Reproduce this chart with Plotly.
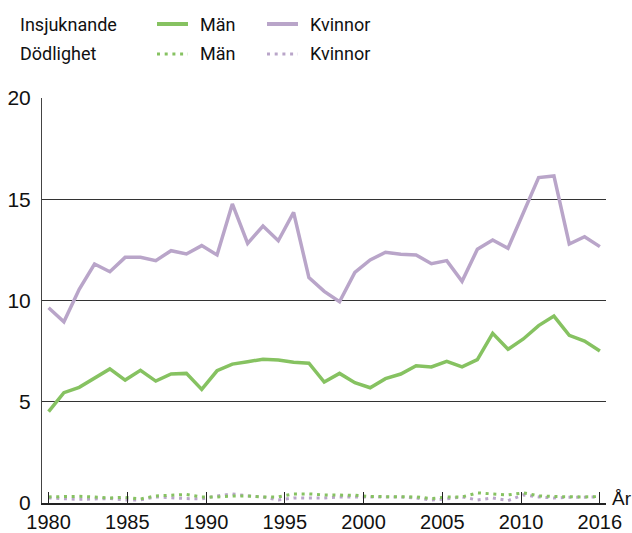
import plotly.graph_objects as go

years = list(range(1980, 2017))

# Insjuknande (per 100 000)
inc_men = [4.51, 5.45, 5.71, 6.16, 6.62, 6.07, 6.55, 6.02, 6.37, 6.40,
           5.61, 6.53, 6.86, 6.98, 7.10, 7.06, 6.95, 6.90, 5.97, 6.40,
           5.94, 5.69, 6.14, 6.37, 6.78, 6.72, 7.00, 6.72, 7.08, 8.38,
           7.59, 8.10, 8.76, 9.23, 8.28, 8.00, 7.51]
inc_women = [9.64, 8.95, 10.55, 11.80, 11.42, 12.13, 12.13, 11.97, 12.46, 12.30,
             12.71, 12.25, 14.77, 12.82, 13.68, 12.95, 14.35, 11.13, 10.45, 9.94,
             11.39, 12.00, 12.38, 12.28, 12.25, 11.82, 11.97, 10.95, 12.53, 12.99,
             12.58, 14.32, 16.07, 16.15, 12.79, 13.15, 12.66]

# Dödlighet (per 100 000)
mort_men = [0.30, 0.33, 0.33, 0.30, 0.25, 0.28, 0.20, 0.35, 0.40, 0.42,
            0.30, 0.30, 0.35, 0.35, 0.30, 0.30, 0.45, 0.45, 0.40, 0.38,
            0.38, 0.32, 0.32, 0.32, 0.30, 0.22, 0.30, 0.30, 0.50, 0.45,
            0.40, 0.50, 0.35, 0.32, 0.30, 0.30, 0.32]
mort_women = [0.25, 0.20, 0.18, 0.20, 0.22, 0.15, 0.15, 0.30, 0.25, 0.22,
              0.20, 0.35, 0.45, 0.35, 0.30, 0.15, 0.25, 0.25, 0.25, 0.30,
              0.30, 0.28, 0.30, 0.30, 0.25, 0.15, 0.20, 0.30, 0.15, 0.25,
              0.12, 0.40, 0.30, 0.25, 0.28, 0.28, 0.30]

x_tick_labels = ["1980", "1985", "1990", "1995", "2000", "2005", "2010", "2016"]
y_ticks = [0, 5, 10, 15, 20]

GREEN = "#86c261"
PURPLE = "#b9a5c9"
FONT = "Liberation Sans, Arial, sans-serif"
LEG_FONT = "Roboto, Liberation Sans, sans-serif"

ML, MR, MT, MB = 42, 26, 98, 30
PLOT_W = 632 - ML - MR
PLOT_H = 533 - MT - MB


def px_x(p):
    return (p - ML) / PLOT_W


def px_y(p):
    return (533 - MB - p) / PLOT_H


fig = go.Figure()
dot = "3px,4.7px"
fig.add_trace(go.Scatter(x=years, y=mort_women, mode="lines",
                         line=dict(color=PURPLE, width=3, dash=dot)))
fig.add_trace(go.Scatter(x=years, y=mort_men, mode="lines",
                         line=dict(color=GREEN, width=3, dash=dot)))
fig.add_trace(go.Scatter(x=years, y=inc_women, mode="lines",
                         line=dict(color=PURPLE, width=3.5)))
fig.add_trace(go.Scatter(x=years, y=inc_men, mode="lines",
                         line=dict(color=GREEN, width=3.5)))

# evenly spaced year ticks between first and last year
n = len(x_tick_labels)
tickvals = [years[0] + i * (years[-1] - years[0]) / (n - 1) for i in range(n)]

fig.update_layout(
    width=632, height=533,
    margin=dict(l=ML, r=MR, t=MT, b=MB),
    paper_bgcolor="white", plot_bgcolor="white",
    showlegend=False,
    font=dict(family=FONT, size=20, color="#111"),
    xaxis=dict(range=[1979.57, 2016.4], tickvals=tickvals, ticktext=x_tick_labels,
               ticks="inside", ticklen=11, tickwidth=1.3, tickcolor="#222",
               showgrid=False, zeroline=False, showline=True, linecolor="#222",
               linewidth=1.5, automargin=False, ticklabelstandoff=0,
               tickfont=dict(size=20, family=FONT)),
    yaxis=dict(range=[0, 20], tickvals=y_ticks, showgrid=True, gridcolor="#333",
               gridwidth=1, zeroline=False, showline=True, linecolor="#444",
               linewidth=1, ticks="", automargin=False, ticklabelstandoff=6,
               tickfont=dict(size=21, family=FONT)),
)

fig.add_annotation(text="År", xref="paper", yref="paper", x=px_x(610), y=px_y(498),
                   xanchor="left", yanchor="middle", showarrow=False,
                   font=dict(size=19, family=FONT))

# legend block
legend_rows = [("Insjuknande", None, 24), ("Dödlighet", dot, 54)]
for label, dash, yp in legend_rows:
    fig.add_annotation(text=label, xref="paper", yref="paper", x=px_x(18), y=px_y(yp),
                       xanchor="left", yanchor="middle", showarrow=False,
                       font=dict(size=18, family=LEG_FONT))
    for color, x0, x1, name in [(GREEN, 157, 188, "Män"), (PURPLE, 267, 298, "Kvinnor")]:
        fig.add_shape(type="line", xref="paper", yref="paper",
                      x0=px_x(x0), x1=px_x(x1), y0=px_y(yp), y1=px_y(yp),
                      line=dict(color=color, width=4 if dash is None else 3,
                                dash="solid" if dash is None else dot))
        fig.add_annotation(text=name, xref="paper", yref="paper",
                           x=px_x(x1 + 10), y=px_y(yp), xanchor="left",
                           yanchor="middle", showarrow=False,
                           font=dict(size=18, family=LEG_FONT))

fig.write_html("out.html")
